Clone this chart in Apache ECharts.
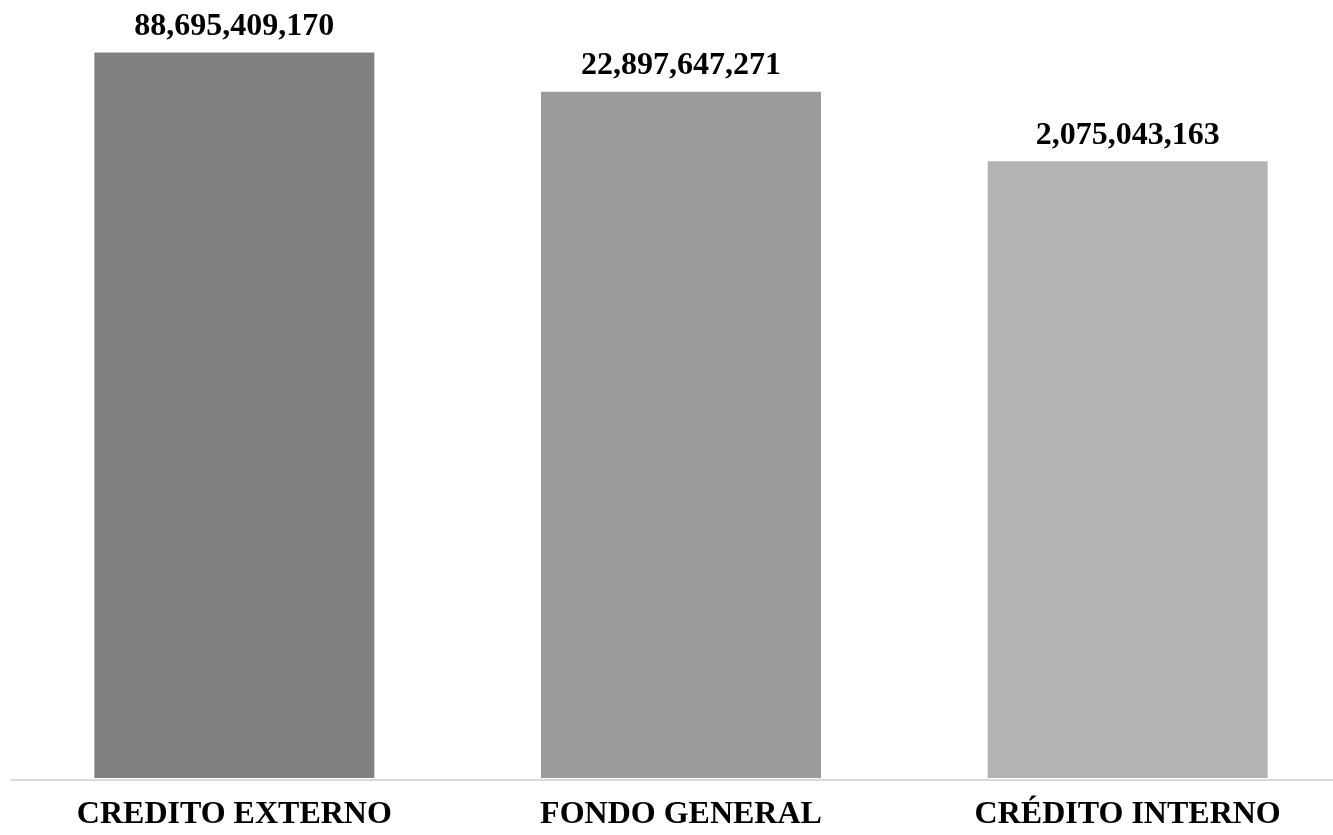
<!DOCTYPE html>
<html>
<head>
<meta charset="utf-8">
<script src="https://cdn.jsdelivr.net/npm/echarts@6/dist/echarts.min.js"></script>
<style>
  html, body { margin: 0; padding: 0; background: #fff; }
  #chart { width: 1333px; height: 835px; }
</style>
</head>
<body>
<div id="chart"></div>
<script>
// datos
var categories = ['CREDITO EXTERNO', 'FONDO GENERAL', 'CRÉDITO INTERNO'];
var values = [88695409170, 22897647271, 2075043163];
var barColors = ['#808080', '#9b9b9b', '#b4b4b4'];

var myChart = echarts.init(document.getElementById('chart'));
var font = "'Liberation Serif', 'Times New Roman', serif";

var option = {
    animation: false,
    grid: {
        left: 11,
        width: 1340,
        top: 49,
        bottom: 57,
        outerBoundsMode: 'none',
        containLabel: false
    },
    xAxis: {
        type: 'category',
        data: categories,
        offset: 2,
        axisTick: { show: false },
        axisLine: {
            lineStyle: { color: '#d9d9d9', width: 2 }
        },
        axisLabel: {
            color: '#000',
            fontFamily: font,
            fontWeight: 'bold',
            fontSize: 32,
            margin: 19
        }
    },
    yAxis: {
        type: 'log',
        logBase: 10,
        min: 1.2,
        max: 1e11,
        show: false,
        splitLine: { show: false }
    },
    series: [{
        type: 'bar',
        barWidth: 280,
        data: values.map(function (v, i) {
            return { value: v, itemStyle: { color: barColors[i] } };
        }),
        label: {
            show: true,
            position: 'top',
            distance: 10,
            color: '#000',
            fontFamily: font,
            fontWeight: 'bold',
            fontSize: 32,
            formatter: function (p) {
                return p.value.toLocaleString('en-US');
            }
        }
    }]
};

myChart.setOption(option);
window.onresize = myChart.resize;
</script>
</body>
</html>
